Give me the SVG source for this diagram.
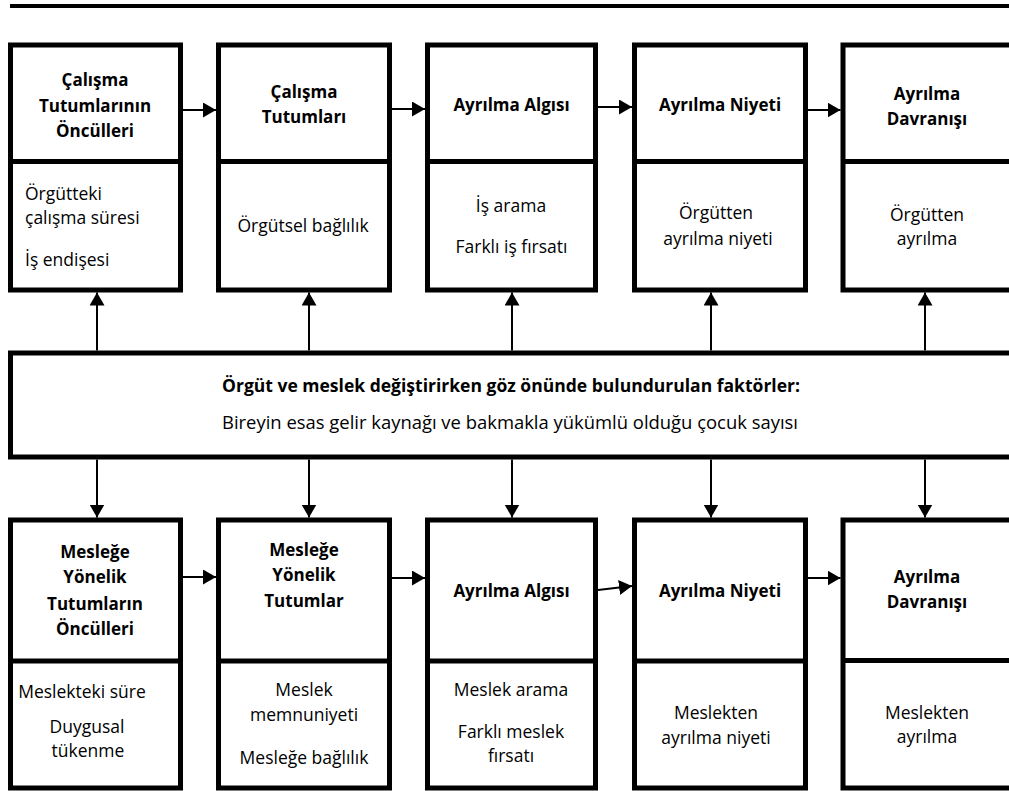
<svg xmlns="http://www.w3.org/2000/svg" width="1009" height="791" viewBox="0 0 1009 791">
<style>
.bx{fill:#fff;stroke:#000;stroke-width:5}
.dv{stroke:#000;stroke-width:5}
.cn line{stroke:#000;stroke-width:2;marker-end:url(#ah)}
text{font-family:"Open Sans","Noto Sans",sans-serif;font-size:17.5px;fill:#000}
.h{font-weight:bold;font-size:17px;text-anchor:middle}
.c{text-anchor:middle}
</style>
<defs>
<marker id="ah" markerUnits="userSpaceOnUse" markerWidth="14" markerHeight="16" refX="13" refY="7.5" orient="auto" viewBox="0 0 14 16">
<path d="M0,0 L13,7.5 L0,15 z" fill="#000"/>
</marker>
</defs>
<rect width="1009" height="791" fill="#fff"/>
<line x1="10" y1="6" x2="1009" y2="6" stroke="#000" stroke-width="4"/>

<g id="t1"><rect class="bx" x="10.5" y="45" width="170" height="245"/><line class="dv" x1="10.5" y1="161.5" x2="180.5" y2="161.5"/>
<text class="h" x="95" y="86">Çalışma</text><text class="h" x="95" y="112">Tutumlarının</text><text class="h" x="95" y="137">Öncülleri</text>
<text x="25" y="200">Örgütteki</text><text x="25" y="224">çalışma süresi</text><text x="25" y="266">İş endişesi</text></g>

<g id="t2"><rect class="bx" x="218.5" y="45" width="171" height="245"/><line class="dv" x1="218.5" y1="161.5" x2="389.5" y2="161.5"/>
<text class="h" x="304" y="98">Çalışma</text><text class="h" x="304" y="123">Tutumları</text>
<text class="c" x="303" y="232">Örgütsel bağlılık</text></g>

<g id="t3"><rect class="bx" x="427.5" y="45" width="168" height="245"/><line class="dv" x1="427.5" y1="161.5" x2="595.5" y2="161.5"/>
<text class="h" x="511.5" y="111">Ayrılma Algısı</text>
<text class="c" x="511" y="212">İş arama</text><text class="c" x="511.5" y="253">Farklı iş fırsatı</text></g>

<g id="t4"><rect class="bx" x="634.5" y="45" width="171" height="245"/><line class="dv" x1="634.5" y1="161.5" x2="805.5" y2="161.5"/>
<text class="h" x="720" y="111">Ayrılma Niyeti</text>
<text class="c" x="716" y="219">Örgütten</text><text class="c" x="718" y="245">ayrılma niyeti</text></g>

<g id="t5"><rect class="bx" x="843" y="45" width="172" height="245"/><line class="dv" x1="843" y1="161.5" x2="1015" y2="161.5"/>
<text class="h" x="927" y="100">Ayrılma</text><text class="h" x="927" y="125">Davranışı</text>
<text class="c" x="927" y="221">Örgütten</text><text class="c" x="927" y="245">ayrılma</text></g>

<g id="banner"><rect class="bx" x="10.5" y="353" width="1010" height="104"/>
<text class="h" x="511" y="392" textLength="578" lengthAdjust="spacingAndGlyphs">Örgüt ve meslek değiştirirken göz önünde bulundurulan faktörler:</text>
<text class="c" x="510" y="429" textLength="576" lengthAdjust="spacingAndGlyphs">Bireyin esas gelir kaynağı ve bakmakla yükümlü olduğu çocuk sayısı</text></g>

<g id="b1"><rect class="bx" x="10.5" y="520" width="170" height="268"/><line class="dv" x1="10.5" y1="661" x2="180.5" y2="661"/>
<text class="h" x="95" y="558">Mesleğe</text><text class="h" x="95" y="583">Yönelik</text><text class="h" x="95" y="610">Tutumların</text><text class="h" x="95" y="635">Öncülleri</text>
<text class="c" x="82" y="698">Meslekteki süre</text><text class="c" x="87" y="733">Duygusal</text><text class="c" x="88" y="757">tükenme</text></g>

<g id="b2"><rect class="bx" x="218.5" y="520" width="171" height="268"/><line class="dv" x1="218.5" y1="661" x2="389.5" y2="661"/>
<text class="h" x="304" y="556">Mesleğe</text><text class="h" x="304" y="581">Yönelik</text><text class="h" x="304" y="607">Tutumlar</text>
<text class="c" x="304" y="696">Meslek</text><text class="c" x="304" y="721">memnuniyeti</text><text class="c" x="304" y="764">Mesleğe bağlılık</text></g>

<g id="b3"><rect class="bx" x="427.5" y="520" width="168" height="268"/><line class="dv" x1="427.5" y1="661" x2="595.5" y2="661"/>
<text class="h" x="511.5" y="597">Ayrılma Algısı</text>
<text class="c" x="511" y="696">Meslek arama</text><text class="c" x="511" y="738">Farklı meslek</text><text class="c" x="511" y="762">fırsatı</text></g>

<g id="b4"><rect class="bx" x="634.5" y="520" width="171" height="268"/><line class="dv" x1="634.5" y1="661" x2="805.5" y2="661"/>
<text class="h" x="720" y="597">Ayrılma Niyeti</text>
<text class="c" x="716" y="719">Meslekten</text><text class="c" x="716" y="744">ayrılma niyeti</text></g>

<g id="b5"><rect class="bx" x="843" y="520" width="172" height="268"/><line class="dv" x1="843" y1="660.5" x2="1015" y2="660.5"/>
<text class="h" x="927" y="583">Ayrılma</text><text class="h" x="927" y="608">Davranışı</text>
<text class="c" x="927" y="719">Meslekten</text><text class="c" x="927" y="743">ayrılma</text></g>

<g id="connectors" class="cn">
<line x1="183" y1="110" x2="216" y2="110"/>
<line x1="392" y1="109" x2="425" y2="109"/>
<line x1="598" y1="107" x2="632" y2="107"/>
<line x1="808" y1="110" x2="840.5" y2="110"/>
<line x1="97" y1="350.5" x2="97" y2="292.5"/>
<line x1="309" y1="350.5" x2="309" y2="292.5"/>
<line x1="512" y1="350.5" x2="512" y2="292.5"/>
<line x1="711" y1="350.5" x2="711" y2="292.5"/>
<line x1="925" y1="350.5" x2="925" y2="292.5"/>
<line x1="97" y1="459.5" x2="97" y2="517.5"/>
<line x1="309" y1="459.5" x2="309" y2="517.5"/>
<line x1="512" y1="459.5" x2="512" y2="517.5"/>
<line x1="711" y1="459.5" x2="711" y2="517.5"/>
<line x1="925" y1="459.5" x2="925" y2="517.5"/>
<line x1="183" y1="577" x2="216" y2="577"/>
<line x1="392" y1="578" x2="425" y2="578"/>
<line x1="598" y1="590" x2="632" y2="586"/>
<line x1="808" y1="578" x2="840.5" y2="578"/>
</g>
</svg>
